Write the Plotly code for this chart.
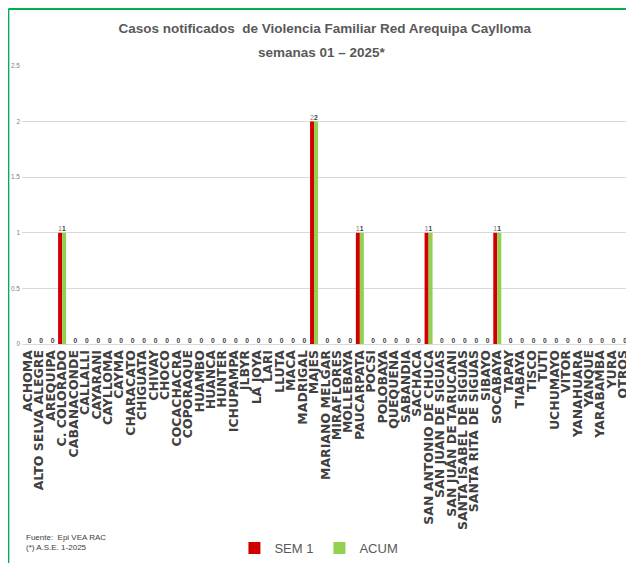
import plotly.graph_objects as go

distritos = [
    "ACHOMA", "ALTO SELVA ALEGRE", "AREQUIPA", "C. COLORADO", "CABANACONDE",
    "CALLALLI", "CAYARANI", "CAYLLOMA", "CAYMA", "CHARACATO", "CHIGUATA",
    "CHIVAY", "CHOCO", "COCACHACRA", "COPORAQUE", "HUAMBO", "HUANCA",
    "HUNTER", "ICHUPAMPA", "JLBYR", "LA JOYA", "LARI", "LLUTA", "MACA",
    "MADRIGAL", "MAJES", "MARIANO MELGAR", "MIRAFLORES", "MOLLEBAYA",
    "PAUCARPATA", "POCSI", "POLOBAYA", "QUEQUEÑA", "SABANDIA", "SACHACA",
    "SAN ANTONIO DE CHUCA", "SAN JUAN DE SIGUAS", "SAN JUAN DE TARUCANI",
    "SANTA ISABEL DE SIGUAS", "SANTA RITA DE SIGUAS", "SIBAYO", "SOCABAYA",
    "TAPAY", "TIABAYA", "TISCO", "TUTI", "UCHUMAYO", "VITOR", "YANAHUARA",
    "YANQUE", "YARABAMBA", "YURA", "OTROS",
]
sem1 = [0, 0, 0, 1, 0, 0, 0, 0, 0, 0, 0, 0, 0, 0, 0, 0, 0, 0, 0, 0, 0, 0, 0,
        0, 0, 2, 0, 0, 0, 1, 0, 0, 0, 0, 0, 1, 0, 0, 0, 0, 0, 1, 0, 0, 0, 0,
        0, 0, 0, 0, 0, 0, 0]
acum = [0, 0, 0, 1, 0, 0, 0, 0, 0, 0, 0, 0, 0, 0, 0, 0, 0, 0, 0, 0, 0, 0, 0,
        0, 0, 2, 0, 0, 0, 1, 0, 0, 0, 0, 0, 1, 0, 0, 0, 0, 0, 1, 0, 0, 0, 0,
        0, 0, 0, 0, 0, 0, 0]

RED = "#D00000"
GREEN = "#92D050"
GRAY = "#595959"
FONT = "Liberation Sans"

fig = go.Figure()
fig.add_trace(go.Bar(
    x=distritos, y=sem1, name="SEM 1",
    marker=dict(color=RED, line=dict(width=0)),
    text=[str(v) if v else "" for v in sem1],
    textposition="outside", cliponaxis=False,
    textfont=dict(family=FONT, size=9, color="#7F7F7F"),
))
fig.add_trace(go.Bar(
    x=distritos, y=acum, name="ACUM",
    marker=dict(color=GREEN, line=dict(width=0)),
    text=[str(v) for v in acum],
    textposition="outside", cliponaxis=False,
    textfont=dict(family=FONT, size=10, color="#404040", weight="bold"),
))

# la página tiene 8 px de margen en el body: se compensa en tamaño y márgenes
fig.update_layout(
    width=626, height=555,
    paper_bgcolor="white", plot_bgcolor="white",
    barmode="group", bargap=0.3, bargroupgap=0,
    margin=dict(l=14, r=5, t=58, b=219, autoexpand=False),
    title=dict(
        text="Casos notificados  de Violencia Familiar Red Arequipa Caylloma",
        x=0.506, xanchor="center", y=0.964, yanchor="middle",
        font=dict(family=FONT, size=13.5, color=GRAY, weight="bold"),
    ),
    legend=dict(
        orientation="h", x=0.49, xanchor="center", y=-0.734, yanchor="middle",
        font=dict(family=FONT, size=13, color=GRAY),
        itemwidth=30, entrywidth=40, tracegroupgap=0,
    ),
    showlegend=True,
)
fig.add_annotation(
    text="semanas 01 – 2025*", xref="paper", yref="paper",
    x=0.495, y=1.047, xanchor="center", yanchor="middle", showarrow=False,
    font=dict(family=FONT, size=13.5, color=GRAY, weight="bold"),
)
fig.update_xaxes(
    tickmode="linear", tick0=0, dtick=1,
    tickangle=-90, automargin=False,
    tickfont=dict(family="DejaVu Sans", size=12.5, color="#404040", weight="bold"),
    showline=True, linecolor="#D9D9D9", linewidth=1, ticks="",
)
fig.update_yaxes(
    range=[0, 2.5], dtick=0.5, automargin=False,
    showgrid=True, gridcolor="#D9D9D9", zeroline=False,
    tickfont=dict(family=FONT, size=6.5, color="#7F7F7F"),
    ticklabelstandoff=1,
)

# marco verde y nota de fuente
fig.add_shape(type="line", xref="paper", yref="paper",
              x0=-0.0225, x1=-0.0225, y0=1.205, y1=-0.8,
              line=dict(color="#00B050", width=2))
fig.add_shape(type="line", xref="paper", yref="paper",
              x0=-0.0225, x1=1.01, y0=1.205, y1=1.205,
              line=dict(color="#00B050", width=2))
fig.add_annotation(
    text="Fuente:  Epi VEA RAC<br>(*) A.S.E. 1-2025",
    xref="paper", yref="paper", x=0.003, y=-0.673, xanchor="left", yanchor="top",
    showarrow=False, align="left",
    font=dict(family=FONT, size=8, color="#404040"),
)

fig.write_html("out.html")
